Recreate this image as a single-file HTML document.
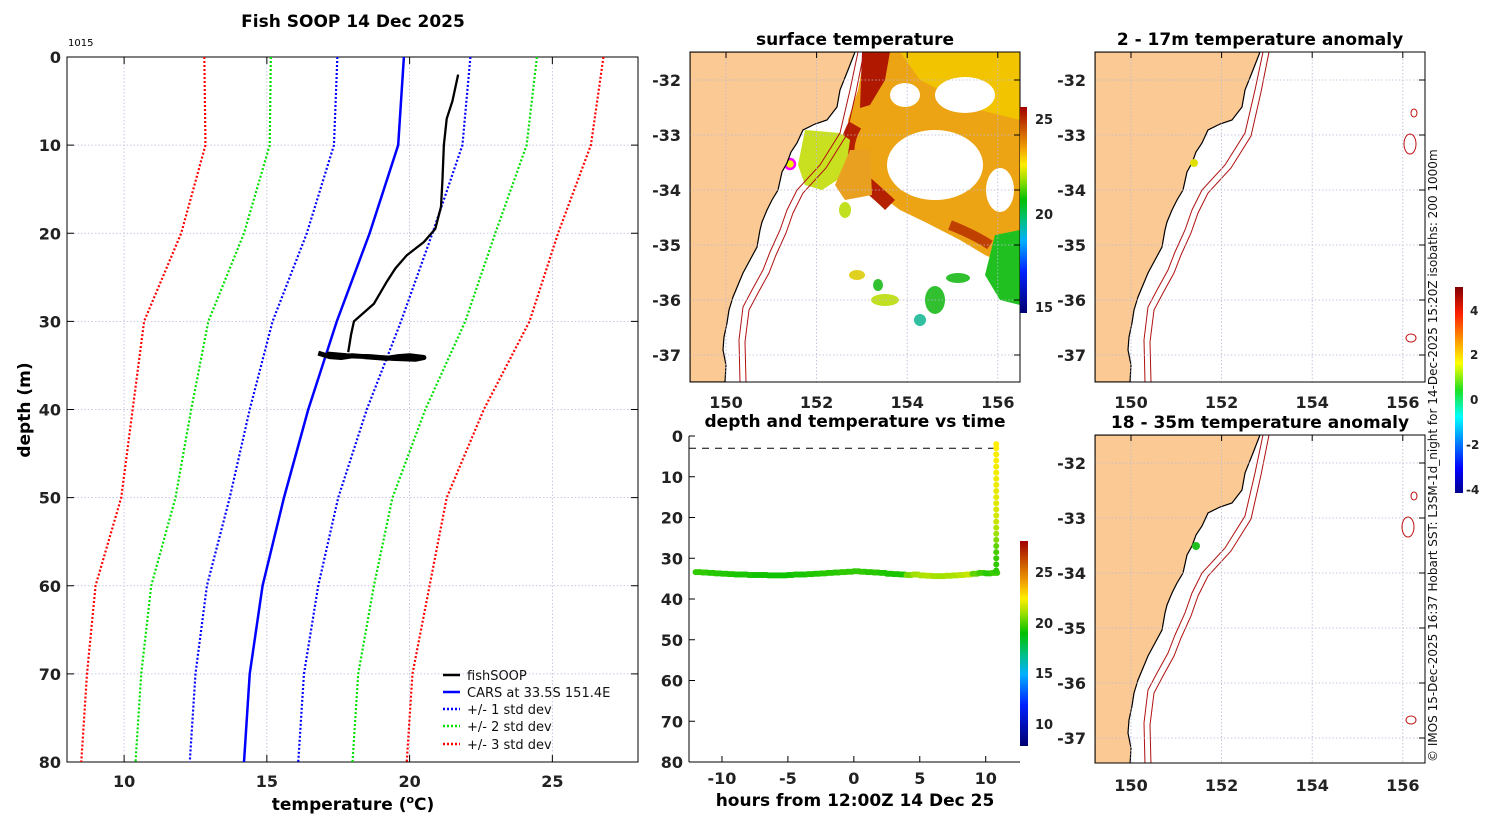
<!DOCTYPE html>
<html><head><meta charset="utf-8"><style>
body{margin:0;background:#fff;}
svg{display:block;font-family:"DejaVu Sans","Liberation Sans",sans-serif;}
.tk{font-size:16px;font-weight:bold;fill:#222;}
.ttl{font-size:17px;font-weight:bold;fill:#000;}
.grid{stroke:#b8b8d8;stroke-width:0.8;stroke-dasharray:1.5 2;}
</style></head><body>
<svg id="fig" width="1500" height="820" viewBox="0 0 1500 820">
<defs>
<linearGradient id="sstcb" x1="0" y1="1" x2="0" y2="0">
<stop offset="0" stop-color="#000070"/><stop offset="0.2" stop-color="#0020ff"/><stop offset="0.35" stop-color="#00b0ff"/><stop offset="0.45" stop-color="#00c080"/><stop offset="0.55" stop-color="#00c000"/><stop offset="0.65" stop-color="#a0e000"/><stop offset="0.72" stop-color="#ffee00"/><stop offset="0.8" stop-color="#f0a000"/><stop offset="0.88" stop-color="#d06000"/><stop offset="1" stop-color="#a00000"/>
</linearGradient>
<linearGradient id="anocb" x1="0" y1="1" x2="0" y2="0">
<stop offset="0" stop-color="#00008f"/><stop offset="0.12" stop-color="#0000ff"/><stop offset="0.37" stop-color="#00ffff"/><stop offset="0.5" stop-color="#20e020"/><stop offset="0.63" stop-color="#ffff00"/><stop offset="0.87" stop-color="#ff2000"/><stop offset="1" stop-color="#800000"/>
</linearGradient>
<clipPath id="clipSST"><rect x="690" y="52" width="330" height="330"/></clipPath>
<clipPath id="clipA1"><rect x="1095" y="52" width="330" height="330"/></clipPath>
<clipPath id="clipA2"><rect x="1095" y="435" width="330" height="328"/></clipPath>
<g id="landTpl">
<polygon points="690,52 855,52 848,70 840,90 837,107 827,120 815,124 803,130 797,143 791,152 787,163 782,172 778,190 772,200 767,210 762,222 760,230 757,247 750,260 743,273 738,285 733,297 729,310 727,323 724,337 723,350 726,365 725,382 690,382" fill="#fbc993" stroke="#000" stroke-width="1.2"/>
<polyline points="858,52 850,90 840,133 820,165 797,190 787,210 780,230 770,252 763,270 752,290 743,307 739,340 740,382" fill="none" stroke="#b01010" stroke-width="1"/>
<polyline points="864,52 856,92 846,136 826,168 803,193 793,213 786,233 776,255 769,273 758,293 749,310 745,342 746,382" fill="none" stroke="#b01010" stroke-width="1"/>
</g>
</defs>
<rect width="1500" height="820" fill="#fff"/>

<!-- main profile panel -->
<text class="ttl" x="353" y="27" text-anchor="middle">Fish SOOP 14 Dec 2025</text>
<text x="68" y="46" font-size="10" fill="#000">1015</text>
<g id="main"></g>
<text class="ttl" x="353" y="810" text-anchor="middle">temperature (<tspan font-size="11" dy="-7">o</tspan><tspan dy="7">C)</tspan></text>
<text class="ttl" x="30" y="410" text-anchor="middle" transform="rotate(-90 30 410)">depth (m)</text>
<g font-size="13" fill="#111">
<line x1="443" y1="675" x2="460" y2="675" stroke="#000" stroke-width="2.5"/><text x="467" y="680">fishSOOP</text>
<line x1="443" y1="692" x2="460" y2="692" stroke="#0000ff" stroke-width="2.5"/><text x="467" y="697">CARS at 33.5S 151.4E</text>
<line x1="443" y1="709" x2="460" y2="709" stroke="#0000ff" stroke-width="2.5" stroke-dasharray="2 2"/><text x="467" y="714">+/- 1 std dev</text>
<line x1="443" y1="726" x2="460" y2="726" stroke="#00e000" stroke-width="2.5" stroke-dasharray="2 2"/><text x="467" y="731">+/- 2 std dev</text>
<line x1="443" y1="744" x2="460" y2="744" stroke="#ff0000" stroke-width="2.5" stroke-dasharray="2 2"/><text x="467" y="749">+/- 3 std dev</text>
</g>

<!-- SST map -->
<text class="ttl" x="855" y="45" text-anchor="middle">surface temperature</text>
<g clip-path="url(#clipSST)">
<g>
<polygon points="865,52 1020,52 1020,255 1000,262 985,255 960,240 925,222 900,210 880,195 862,170 850,150 848,120 858,90" fill="#eca414"/>
<polygon points="900,52 1020,52 1020,120 980,110 950,95 920,80" fill="#f2c400"/>
<ellipse cx="935" cy="165" rx="48" ry="35" fill="#fff"/>
<ellipse cx="965" cy="95" rx="30" ry="18" fill="#fff"/>
<ellipse cx="1000" cy="190" rx="14" ry="22" fill="#fff"/>
<ellipse cx="905" cy="95" rx="15" ry="12" fill="#fff"/>
<path d="M862,52 L890,52 L885,80 L870,105 L860,108 Z" fill="#b01800"/>
<path d="M855,125 Q835,160 868,185 Q885,200 890,205" fill="none" stroke="#b52000" stroke-width="14"/>
<path d="M950,225 Q975,235 990,245" fill="none" stroke="#c04000" stroke-width="10"/>
<polygon points="805,130 840,133 850,140 845,175 822,190 805,185 798,165" fill="#c8e020"/>
<polygon points="850,150 870,150 872,195 845,200 835,185" fill="#e9a020"/>
<polygon points="995,235 1020,230 1020,305 1000,300 985,275" fill="#20c020"/>
<ellipse cx="935" cy="300" rx="10" ry="14" fill="#30c030"/>
<ellipse cx="885" cy="300" rx="14" ry="6" fill="#c0e020"/>
<ellipse cx="857" cy="275" rx="8" ry="5" fill="#e0d020"/>
<ellipse cx="878" cy="285" rx="5" ry="6" fill="#30c030"/>
<ellipse cx="958" cy="278" rx="12" ry="5" fill="#30c030"/>
<ellipse cx="920" cy="320" rx="6" ry="6" fill="#30c0a0"/>
<ellipse cx="845" cy="210" rx="6" ry="8" fill="#c0e020"/>
<ellipse cx="790" cy="164" rx="5" ry="5" fill="#f0f000" stroke="#ff00ff" stroke-width="2.5"/>
</g>
<use href="#landTpl"/>
<g id="sstgrid"></g>
</g>
<rect x="690" y="52" width="330" height="330" fill="none" stroke="#000" stroke-width="1"/>
<rect x="1020" y="107" width="7" height="206" fill="url(#sstcb)"/>
<g class="tk" font-size="13">
<text x="1035" y="124" font-size="13">25</text>
<text x="1035" y="219" font-size="13">20</text>
<text x="1035" y="312" font-size="13">15</text>
</g>

<!-- anomaly maps -->
<text class="ttl" x="1260" y="45" text-anchor="middle">2 - 17m temperature anomaly</text>
<g clip-path="url(#clipA1)">
<use href="#landTpl" transform="translate(405,0)"/>
<g id="a1grid"></g>
<circle cx="1194" cy="163" r="4" fill="#e0e000"/>
<ellipse cx="1414" cy="113" rx="3" ry="4" fill="none" stroke="#c01010"/>
<ellipse cx="1410" cy="144" rx="6" ry="10" fill="none" stroke="#c01010"/>
<ellipse cx="1411" cy="338" rx="5" ry="4" fill="none" stroke="#c01010"/>
</g>
<rect x="1095" y="52" width="330" height="330" fill="none" stroke="#000"/>

<text class="ttl" x="1260" y="428" text-anchor="middle">18 - 35m temperature anomaly</text>
<g clip-path="url(#clipA2)">
<use href="#landTpl" transform="translate(405,383)"/>
<g id="a2grid"></g>
<circle cx="1196" cy="546" r="4" fill="#20c020"/>
<ellipse cx="1414" cy="496" rx="3" ry="4" fill="none" stroke="#c01010"/>
<ellipse cx="1408" cy="527" rx="6" ry="10" fill="none" stroke="#c01010"/>
<ellipse cx="1411" cy="720" rx="5" ry="4" fill="none" stroke="#c01010"/>
</g>
<rect x="1095" y="435" width="330" height="328" fill="none" stroke="#000"/>
<rect x="1455" y="287" width="8" height="206" fill="url(#anocb)"/>
<g font-size="12" font-weight="bold" fill="#222">
<text x="1470" y="315">4</text><text x="1470" y="359">2</text><text x="1470" y="404">0</text><text x="1466" y="449">-2</text><text x="1466" y="494">-4</text>
</g>
<text x="1437" y="762" font-size="12" fill="#111" transform="rotate(-90 1437 762)">© IMOS 15-Dec-2025 16:37 Hobart SST: L3SM-1d_night for 14-Dec-2025 15:20Z isobaths: 200  1000m</text>

<!-- time series -->
<text class="ttl" x="855" y="427" text-anchor="middle">depth and temperature vs time</text>
<g id="ts"></g>
<text class="ttl" x="855" y="806" text-anchor="middle">hours from 12:00Z 14 Dec 25</text>
<rect x="1020" y="541" width="8" height="205" fill="url(#sstcb)"/>
<g font-size="13" font-weight="bold" fill="#222">
<text x="1035" y="577">25</text><text x="1035" y="628">20</text><text x="1035" y="678">15</text><text x="1035" y="729">10</text>
</g>
</svg>
<script>
// ---- profile data ----
const carsDepth=[0,10,20,30,40,50,60,70,80];
const carsMean=[19.8,19.6,18.6,17.45,16.45,15.6,14.85,14.4,14.2];
const carsSd=[2.33,2.25,2.2,2.25,2.05,1.9,1.95,1.9,1.9];
const fishDepth=[2,5,7,10,14,17,19.5,21,22.5,24,25.5,28,30,31.5,33.5];
const fishTemp=[21.7,21.5,21.3,21.2,21.15,21.1,20.9,20.5,19.9,19.5,19.2,18.75,18.05,17.95,17.85];
const bottomTemp=[16.8,17.2,17.6,18.0,18.4,18.8,19.2,19.6,20.0,20.5,20.2,19.4,18.6,17.8,17.1];
const bottomDepth=[33.6,34.0,34.1,33.9,34.0,34.1,34.2,34.0,33.9,34.1,34.3,34.2,34.0,33.9,33.7];
const tempTicks=[10,15,20,25];
const depthTicks=[0,10,20,30,40,50,60,70,80];
// ---- timeseries data ----
const tsHours=[-12,-11.5,-11,-10.5,-10,-9.5,-9,-8.5,-8,-7.5,-7,-6.5,-6,-5.5,-5,-4.5,-4,-3.5,-3,-2.5,-2,-1.5,-1,-0.5,0,0.5,1,1.5,2,2.5,3,3.5,4,4.5,5,5.5,6,6.5,7,7.5,8,8.5,9,9.5,10,10.5];
const tsDepth=[33.4,33.5,33.6,33.7,33.8,33.9,34.0,34.0,34.1,34.1,34.1,34.2,34.2,34.2,34.1,34.0,34.0,33.9,33.8,33.7,33.6,33.5,33.4,33.3,33.2,33.3,33.4,33.5,33.6,33.8,33.9,34.0,34.1,34.0,34.2,34.3,34.4,34.4,34.3,34.2,34.1,34.0,33.8,33.6,33.7,33.6];
const tsTemp=[19.6,19.6,19.5,19.5,19.4,19.4,19.3,19.3,19.3,19.2,19.2,19.2,19.2,19.2,19.2,19.3,19.3,19.4,19.4,19.5,19.5,19.5,19.6,19.6,19.6,19.6,19.5,19.5,19.4,19.3,19.3,19.3,20.5,21,21.2,21.3,21.1,21,21.1,21.2,21.4,21.6,20.2,19.8,19.5,19.7];
const prDepth=[33,31.5,30,28.5,27,25.5,24,22.5,21,19.5,18,16.5,15,13.5,12,10.5,9,7.5,6,4.5,3,2];
const prTemp=[19.5,19.6,19.7,19.9,20.2,20.6,21.0,21.3,21.6,21.8,21.9,22.0,22.1,22.1,22.2,22.2,22.3,22.3,22.4,22.4,22.5,22.5];
const tsXTicks=[-10,-5,0,5,10];
const tsYTicks=[0,10,20,30,40,50,60,70,80];
const latTicks=[-32,-33,-34,-35,-36,-37];
const lonTicks=[150,152,154,156];

const NS='http://www.w3.org/2000/svg';
function mk(p,tag,at){const e=document.createElementNS(NS,tag);for(const k in at)e.setAttribute(k,at[k]);p.appendChild(e);return e;}
function txt(p,x,y,s,anchor,cls){const t=mk(p,'text',{x:x,y:y,'text-anchor':anchor,class:cls||'tk'});t.textContent=s;return t;}

// ---- main profile ----
const M=document.getElementById('main');
const X=t=>67+(t-8)/20*571, Y=d=>57+d/80*705;
tempTicks.forEach(t=>{const l=mk(M,'line',{x1:X(t),x2:X(t),y1:57,y2:762,class:'grid'});


mk(M,'line',{x1:X(t),x2:X(t),y1:762,y2:755,stroke:'#000'});mk(M,'line',{x1:X(t),x2:X(t),y1:57,y2:64,stroke:'#000'});
const tl=txt(M,X(t),787,String(t),'middle');

});
depthTicks.forEach(d=>{if(d>0&&d<80)mk(M,'line',{x1:67,x2:638,y1:Y(d),y2:Y(d),class:'grid'});
mk(M,'line',{x1:67,x2:74,y1:Y(d),y2:Y(d),stroke:'#000'});mk(M,'line',{x1:638,x2:631,y1:Y(d),y2:Y(d),stroke:'#000'});
const tl=txt(M,61,Y(d)+6,String(d),'end');

});
mk(M,'rect',{x:67,y:57,width:571,height:705,fill:'none',stroke:'#000'});
function line(vals,col,dash,w,name){const pts=carsDepth.map((d,i)=>X(vals[i])+','+Y(d)).join(' ');
const p=mk(M,'polyline',{points:pts,fill:'none',stroke:col,'stroke-width':w});if(dash)p.setAttribute('stroke-dasharray',dash);

}
[[3,'#ff0000','sd3'],[2,'#00e000','sd2'],[1,'#0000ff','sd1']].forEach(([k,c,n])=>{
line(carsMean.map((m,i)=>m-k*carsSd[i]),c,'2 2',2.2,n+'-lower');line(carsMean.map((m,i)=>m+k*carsSd[i]),c,'2 2',2.2,n+'-upper');});
line(carsMean,'#0000ff',null,2.5,'cars-mean-line');
const fp=mk(M,'polyline',{points:fishDepth.map((d,i)=>X(fishTemp[i])+','+Y(d)).join(' '),fill:'none',stroke:'#000','stroke-width':2.3});


const bp=mk(M,'polyline',{points:bottomDepth.map((d,i)=>X(bottomTemp[i])+','+Y(d)).join(' '),fill:'none',stroke:'#000','stroke-width':5,'stroke-linejoin':'round'});



// ---- timeseries ----
const T=document.getElementById('ts');
const TX=h=>689+(h+12.5)/25.1*331, TY=d=>436+d/80*326;
function cmap(t){const st=[[8,[0,0,112]],[12,[0,32,255]],[15,[0,176,255]],[17,[0,192,128]],[19,[0,192,0]],[21,[160,224,0]],[22.5,[255,238,0]],[24,[240,160,0]],[25.5,[208,96,0]],[27.5,[160,0,0]]];
if(t<=st[0][0])return 'rgb('+st[0][1]+')';for(let i=1;i<st.length;i++){if(t<=st[i][0]){const f=(t-st[i-1][0])/(st[i][0]-st[i-1][0]);const c=st[i-1][1].map((v,j)=>Math.round(v+f*(st[i][1][j]-v)));return 'rgb('+c+')';}}return 'rgb(160,0,0)';}
tsXTicks.forEach(h=>{mk(T,'line',{x1:TX(h),x2:TX(h),y1:762,y2:756,stroke:'#000'});const tl=txt(T,TX(h),784,String(h),'middle');

});
tsYTicks.forEach(d=>{mk(T,'line',{x1:689,x2:695,y1:TY(d),y2:TY(d),stroke:'#000'});const tl=txt(T,683,TY(d)+6,String(d),'end');

});
mk(T,'line',{x1:689,x2:689,y1:436,y2:762,stroke:'#000'});mk(T,'line',{x1:689,x2:1020,y1:762,y2:762,stroke:'#000'});
mk(T,'line',{x1:689,x2:1000,y1:TY(3),y2:TY(3),stroke:'#000','stroke-dasharray':'7 6'});
tsHours.forEach((h,i)=>{for(let k=0;k<4;k++){const hh=h+k*0.125;const c=mk(T,'circle',{cx:TX(hh),cy:TY(tsDepth[i]),r:3,fill:cmap(tsTemp[i])});

}});
prDepth.forEach((d,i)=>{const c=mk(T,'circle',{cx:TX(10.8),cy:TY(d),r:3,fill:cmap(prTemp[i])});

});

// ---- map grids & ticks ----
function mapAxes(gid,x0,y0,latY0){const g=document.getElementById(gid);const root=document.getElementById('fig');
lonTicks.forEach(l=>{const x=x0+(l-150)*45.3;mk(g,'line',{x1:x,x2:x,y1:y0,y2:y0+330,class:'grid'});mk(root,'line',{x1:x,x2:x,y1:y0,y2:y0+6,stroke:'#000'});
const tl=txt(root,x,y0+356,String(l),'middle');

});
latTicks.forEach(l=>{const y=latY0+(-32-l)*55;mk(g,'line',{x1:x0-40,x2:x0+300,y1:y,y2:y,class:'grid'});mk(root,'line',{x1:x0+294-6,x2:x0+294,y1:y,y2:y,stroke:'#000'});
const tl=txt(root,x0-45,y+6,String(l),'end');

});}
mapAxes('sstgrid',726,52,80);
mapAxes('a1grid',1131,52,80);
mapAxes('a2grid',1131,435,463);
</script>
</body></html>
